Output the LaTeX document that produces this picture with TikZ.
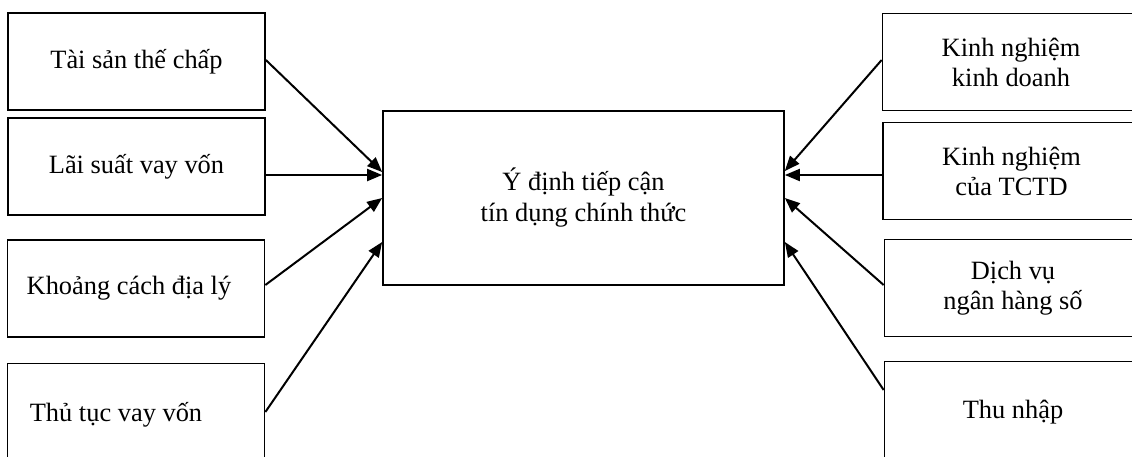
\documentclass[tikz,border=0pt]{standalone}
\usepackage{fontspec}
\setmainfont{Liberation Serif}
\usetikzlibrary{arrows.meta}
\begin{document}
\begin{tikzpicture}[x=1pt,y=-1pt,
  box/.style={draw, line width=1.7pt, rectangle, inner sep=0pt, align=center,
    minimum width=257pt, minimum height=97pt, font=\fontsize{26.4}{30}\selectfont},
  mainbox/.style={draw, line width=1.7pt, rectangle, inner sep=0pt, align=center,
    minimum width=401pt, minimum height=174pt, font=\fontsize{26.4}{31}\selectfont},
  arr/.style={line width=2pt, -{Triangle[length=15pt,width=12pt]}}]
\useasboundingbox (0,0) rectangle (1132,456);
% left boxes
\node[box] (b1) at (136.5,61.5) {Tài sản thế chấp};
\node[box] (b2) at (136.5,166.5) {Lãi suất vay vốn};
\node[box, label={[xshift=-7pt,font=\fontsize{26.4}{30}\selectfont]center:Khoảng cách địa lý}] (b3) at (136,288.5) {};
\node[box, label={[xshift=-20pt,yshift=-3pt,font=\fontsize{26.4}{30}\selectfont]center:Thủ tục vay vốn}] (b4) at (136,412) {};
% center box
\node[mainbox] (c) at (583.5,198) {Ý định tiếp cận\\tín dụng chính thức};
% right boxes
\node[box] (b5) at (1011,62) {Kinh nghiệm\\kinh doanh};
\node[box] (b6) at (1011.5,171) {Kinh nghiệm\\của TCTD};
\node[box] (b7) at (1013,288) {Dịch vụ\\ngân hàng số};
\node[box, label={[yshift=-2pt,font=\fontsize{26.4}{30}\selectfont]center:Thu nhập}] (b8) at (1013,410) {};
% arrows left
\draw[arr] (b1.east |- 0,60) -- (c.west |- 0,172);
\draw[arr] (b2.east |- 0,175) -- (c.west |- 0,175);
\draw[arr] (b3.east |- 0,285) -- (c.west |- 0,198);
\draw[arr] (b4.east |- 0,412) -- (c.west |- 0,242);
% arrows right
\draw[arr] (b5.west |- 0,60) -- (c.east |- 0,171);
\draw[arr] (b6.west |- 0,175) -- (c.east |- 0,175);
\draw[arr] (b7.west |- 0,285) -- (c.east |- 0,198);
\draw[arr] (b8.west |- 0,390) -- (c.east |- 0,242);
\end{tikzpicture}
\end{document}
